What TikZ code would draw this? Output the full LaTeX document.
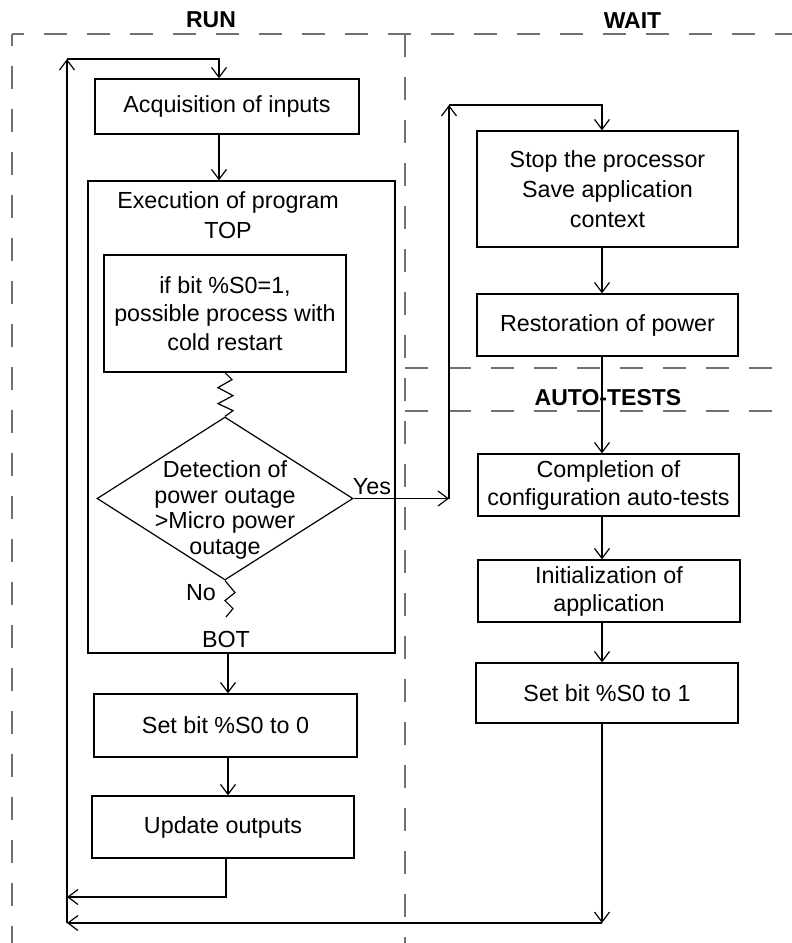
\documentclass[tikz,border=0pt]{standalone}
\usepackage{fontspec}
\setmainfont{Liberation Sans}
\usetikzlibrary{arrows.meta,shapes.geometric}
\definecolor{dashgray}{RGB}{112,112,112}
\begin{document}
\begin{tikzpicture}[x=1pt,y=-1pt,
  every node/.style={font=\fontsize{23.3}{28}\selectfont},
  box/.style={draw, line width=1.2pt, inner sep=0pt, align=center},
  arr/.style={-{Straight Barb[length=10pt,width=15pt,line width=1.2pt]}, line width=1.2pt},
  ln/.style={line width=1.2pt},
  frame/.style={draw=dashgray, line width=1.3pt, dash pattern=on 23pt off 20pt},
  lbl/.style={font=\fontsize{23}{28}\selectfont\bfseries},
]
\useasboundingbox (0,0) rectangle (792,943);

% dashed zone frames
\draw[frame, dash phase=11.5] (12,34) -- (792,34);
\draw[frame, dash phase=11.5] (12,34) -- (12,943);
\draw[frame] (405,34) -- (405,943);
\draw[frame] (405,368) -- (792,368);
\draw[frame] (405,411) -- (792,411);

% zone labels
\node[lbl] (run) at (211,19.5) {RUN};
\node[lbl] (wait) at (632.5,20.5) {WAIT};
\node[lbl] (auto) at (608,398) {AUTO-TESTS};

% RUN column
\node[box, minimum width=264, minimum height=55] (acq) at (227,106.5) {Acquisition of inputs};
\node[box, minimum width=307, minimum height=472] (exec) at (241.5,417) {};
\node[align=center, font=\fontsize{23.3}{29.5}\selectfont] (exect) at (228,215) {Execution of program\\TOP};
\node[box, minimum width=242, minimum height=117, font=\fontsize{23.3}{28.5}\selectfont] (inner) at (225,313.5) {if bit \%S0=1,\\possible process with\\cold restart};
\node[draw, diamond, line width=1.2pt, minimum width=256, minimum height=163, inner sep=0pt] (dia) at (225,498.5) {};
\node[align=center, font=\fontsize{23.3}{25.7}\selectfont] (diat) at (225,510) {Detection of\\power outage\\>Micro power\\outage};
\node (yes) at (372,487) {Yes};
\node (no) at (201,593) {No};
\node (bot) at (226,639) {BOT};
\node[box, minimum width=263, minimum height=63] (set0) at (225.5,725.5) {Set bit \%S0 to 0};
\node[box, minimum width=262, minimum height=62] (upd) at (223,827) {Update outputs};

% WAIT / AUTO-TESTS column
\node[box, minimum width=261, minimum height=116, font=\fontsize{23.3}{30}\selectfont] (stop) at (607.5,189) {Stop the processor\\Save application\\context};
\node[box, minimum width=261, minimum height=62] (rest) at (607.5,325) {Restoration of power};
\node[box, minimum width=261, minimum height=62] (comp) at (608.5,485) {Completion of\\configuration auto-tests};
\node[box, minimum width=262, minimum height=62] (init) at (609,591) {Initialization of\\application};
\node[box, minimum width=262, minimum height=60] (set1) at (607,693) {Set bit \%S0 to 1};

% helper coordinates
\coordinate (xA) at (219,0);
\coordinate (xB) at (228,0);
\coordinate (xC) at (226,0);
\coordinate (xR) at (602,0);
\coordinate (lt) at (67,59);
\coordinate (lb) at (67,923);
\coordinate (lm) at (67,897);
\coordinate (yc) at (449,498.5);
\coordinate (yt) at (449,105);
\coordinate (zend) at (226,617);

% connectors
\draw[arr] (lb) -- (lt);
\draw[arr] (lt) -- (lt -| xA) -- (acq.north -| xA);
\draw[arr] (acq.south -| xA) -- (exec.north -| xA);
\draw[ln] (inner.south) -- ++(7,7) -- ++(-14,8) -- ++(15,8) -- ++(-15,8) -- ++(15,7) -- (dia.north);
\draw[ln] (dia.south) -- ++(10,12) -- ++(-10,8) -- ++(8,8) -- (zend);
\draw[arr] (exec.south -| xB) -- (set0.north -| xB);
\draw[arr] (set0.south -| xB) -- (upd.north -| xB);
\draw[arr] (upd.south -| xC) -- (lm -| xC) -- (lm);
\draw[arr] (dia.east) -- (yc);
\draw[arr] (yc) -- (yt);
\draw[arr] (yt) -- (yt -| xR) -- (stop.north -| xR);
\draw[arr] (stop.south -| xR) -- (rest.north -| xR);
\draw[arr] (rest.south -| xR) -- (comp.north -| xR);
\draw[arr] (comp.south -| xR) -- (init.north -| xR);
\draw[arr] (init.south -| xR) -- (set1.north -| xR);
\draw[arr] (set1.south -| xR) -- (lb -| xR);
\draw[arr] (lb -| xR) -- (lb);
\end{tikzpicture}
\end{document}
